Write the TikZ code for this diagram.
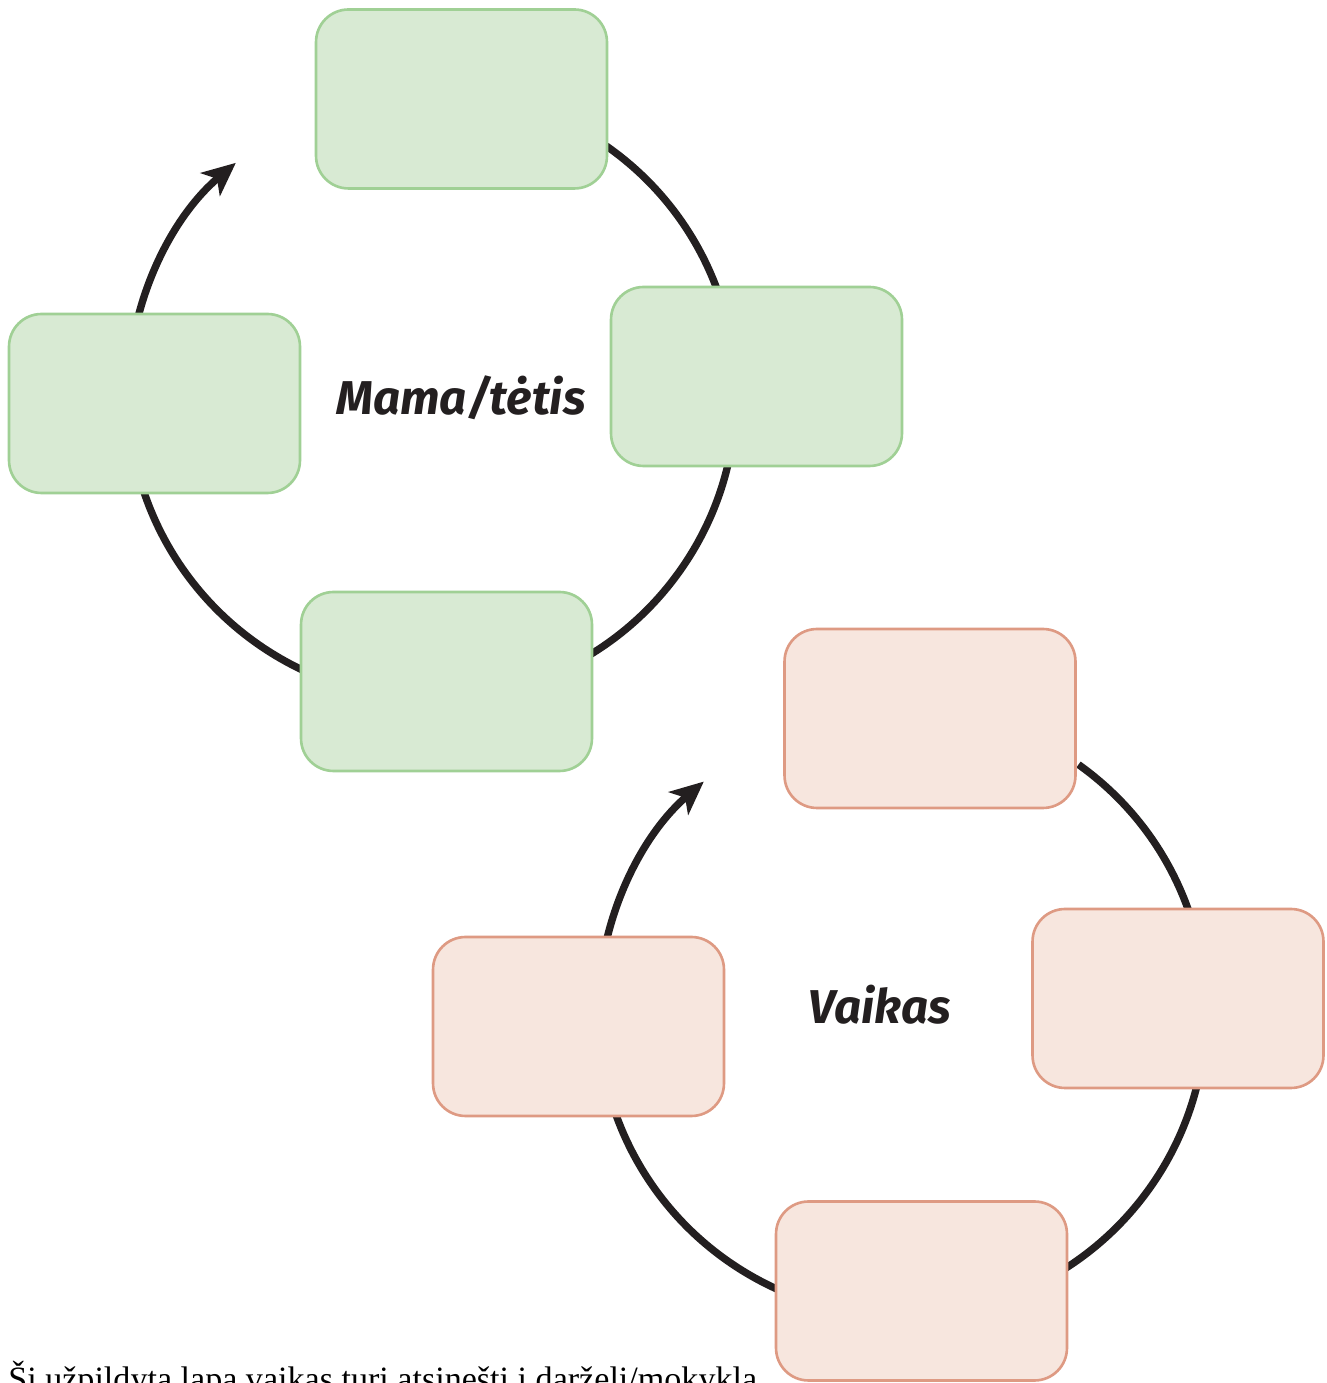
\documentclass[tikz,border=0pt]{standalone}
\usepackage{fontspec}
\setmainfont{Liberation Serif}
\newfontfamily\handfont{Fira Sans}
\usetikzlibrary{arrows.meta,positioning,calc}
\definecolor{greenfill}{HTML}{D8EAD3}
\definecolor{greenline}{HTML}{A0D095}
\definecolor{pinkfill}{HTML}{F7E6DE}
\definecolor{pinkline}{HTML}{DE9A83}
\definecolor{ink}{HTML}{231F20}

\begin{document}
\begin{tikzpicture}[
    x=0.02cm, y=0.02cm,
    gbox/.style={draw=greenline, fill=greenfill, line width=1.5pt,
                 rounded corners=0.65cm, minimum width=5.82cm,
                 minimum height=3.58cm},
    pbox/.style={gbox, draw=pinkline, fill=pinkfill},
    cyc/.style={draw=ink, line width=4.2pt,
                -{Stealth[length=19pt, width=17pt, inset=5pt]}},
    lbl/.style={font=\handfont\bfseries\itshape\fontsize{27}{32}\selectfont,
                text=ink}
  ]
  \useasboundingbox (0,0) rectangle (1327,1383);

  % parent cycle
  \coordinate (pc) at (432,988);
  \draw[cyc] (pc) ++(55:6.08cm) arc[start angle=55, end angle=-229.8, radius=6.08cm];
  \node[gbox] (ptop) at (461.5,1284) {};
  \node[gbox] (pright) at (756.5,1006.5) {};
  \node[gbox] (pleft) at (154.5,979.5) {};
  \node[gbox] (pbottom) at (446.5,701.5) {};
  \node[lbl] (plabel) at (461,985) {Mama/tėtis};

  % child cycle
  \coordinate (kc) at (902,371);
  \draw[cyc] (kc) ++(54.5:6.08cm) arc[start angle=54.5, end angle=-229.3, radius=6.08cm];
  \node[pbox] (ktop) at (930,664.5) {};
  \node[pbox] (kright) at (1178,384.5) {};
  \node[pbox] (kleft) at (578.5,356.5) {};
  \node[pbox] (kbottom) at (921.5,92) {};
  \node[lbl] (klabel) at (880,378) {Vaikas};

  \node[anchor=base west, inner sep=0pt, font=\fontsize{19.4}{23}\selectfont]
    (note) at (8,-8) {Šį užpildytą lapą vaikas turi atsinešti į darželį/mokyklą.};
\end{tikzpicture}
\end{document}
